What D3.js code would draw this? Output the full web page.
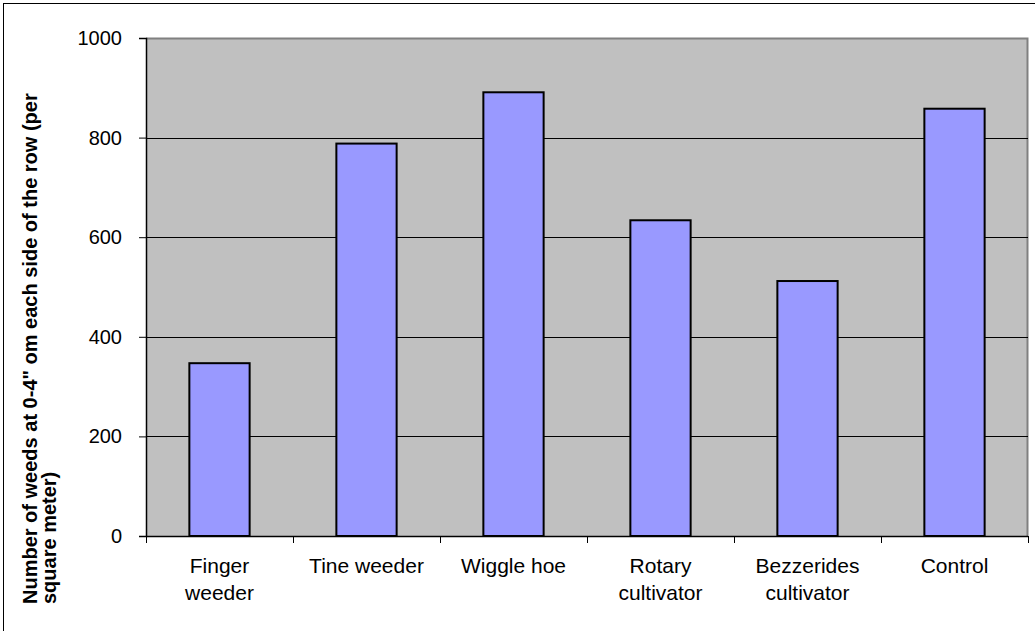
<!DOCTYPE html>
<html><head><meta charset="utf-8">
<script src="https://cdn.jsdelivr.net/npm/d3@7"></script>
<style>
html,body{margin:0;padding:0;background:#fff;}
svg text{font-family:"Liberation Sans",Arial,sans-serif;fill:#000;}
</style></head>
<body><svg id="chart" width="1035" height="631"></svg>
<script>
const categories = [["Finger","weeder"],["Tine weeder"],["Wiggle hoe"],["Rotary","cultivator"],["Bezzerides","cultivator"],["Control"]];
const values = [347, 788, 891, 634, 512, 858];
const yTicks = [0, 200, 400, 600, 800, 1000];
const yTitle = ['Number of weeds at 0-4" om each side of the row (per', 'square meter)'];

const svg = d3.select("#chart");
const L = 146, R = 1028, T = 38, B = 536;

// outer border
svg.append("rect").attr("x",3.5).attr("y",3.5).attr("width",1040).attr("height",640)
  .attr("fill","#fff").attr("stroke","#000").attr("stroke-width",1);

const x = d3.scaleBand().domain(d3.range(categories.length)).range([L, R]);
const y = d3.scaleLinear().domain([0, 1000]).range([B, T]);

// plot background
svg.append("rect").attr("x",L).attr("y",T).attr("width",R-L).attr("height",B-T).attr("fill","#c0c0c0");
// top/right plot border
svg.append("path").attr("d",`M${L},${T+0.5}H${R-0.5}V${B}`).attr("fill","none").attr("stroke","#808080").attr("stroke-width",2);

// gridlines
svg.append("g").selectAll("line").data(yTicks.filter(d=>d>0 && d<1000)).join("line")
  .attr("x1",L).attr("x2",R).attr("y1",d=>Math.round(y(d))+0.5).attr("y2",d=>Math.round(y(d))+0.5)
  .attr("stroke","#000").attr("stroke-width",1);

// bars
const bw = x.bandwidth()*0.41;
svg.append("g").selectAll("rect").data(values).join("rect")
  .attr("x",(d,i)=>x(i)+x.bandwidth()/2-bw/2)
  .attr("y",d=>y(d))
  .attr("width",bw)
  .attr("height",d=>B-y(d))
  .attr("fill","#9999ff").attr("stroke","#000").attr("stroke-width",2);

// y axis
const yAxis = d3.axisLeft(y).tickValues(yTicks).tickSize(7).tickPadding(17).tickFormat(d3.format("d"));
const gy = svg.append("g").attr("transform",`translate(${L},0)`).call(yAxis);
gy.select(".domain").attr("stroke","#000").attr("stroke-width",1.5);
gy.selectAll(".tick line").attr("stroke","#000");
gy.selectAll(".tick text").style("font-size","20px").attr("fill","#000");

// x axis
const xAxis = d3.scaleLinear().domain([0, categories.length]).range([L, R]);
const gx = svg.append("g").attr("transform",`translate(0,${B})`);
gx.append("line").attr("x1",L).attr("x2",R).attr("y1",0.5).attr("y2",0.5).attr("stroke","#000").attr("stroke-width",1.5);
gx.selectAll("line.tk").data(d3.range(categories.length+1)).join("line").attr("class","tk")
  .attr("x1",d=>Math.round(xAxis(d))+0.5).attr("x2",d=>Math.round(xAxis(d))+0.5).attr("y1",0).attr("y2",7).attr("stroke","#000");
const lab = gx.selectAll("text").data(categories).join("text")
  .attr("text-anchor","middle").style("font-size","21px")
  .attr("transform",(d,i)=>`translate(${x(i)+x.bandwidth()/2},0)`);
lab.selectAll("tspan").data(d=>d).join("tspan").attr("x",0).attr("y",(d,j)=>37+j*27).text(d=>d);

// y title
const yt = svg.append("text").attr("transform","translate(0,604) rotate(-90)")
  .style("font-size","20px").style("font-weight","bold");
yt.selectAll("tspan").data(yTitle).join("tspan").attr("x",0).attr("y",(d,j)=>37+j*19).text(d=>d);
</script></body></html>
